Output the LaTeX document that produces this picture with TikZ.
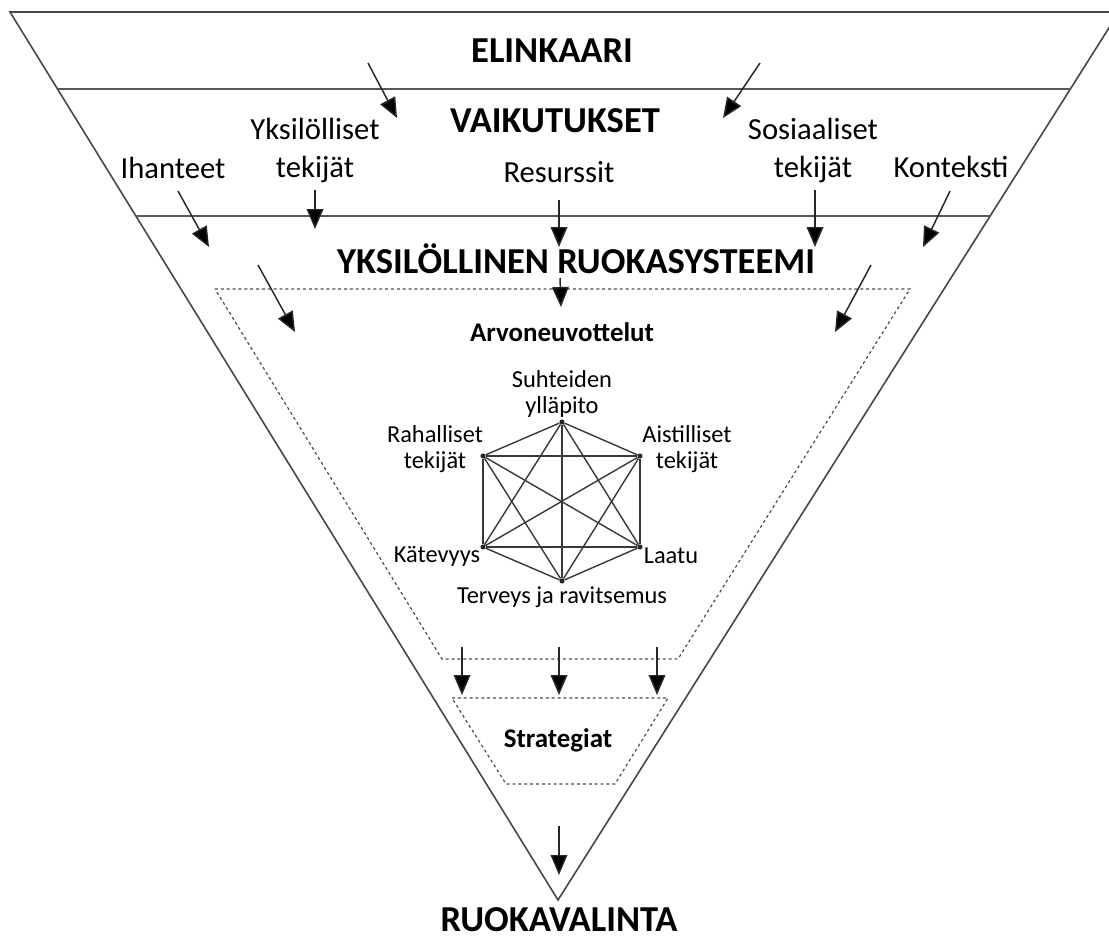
\documentclass[tikz,border=0pt]{standalone}
\usepackage{fontspec}
\setmainfont{Carlito}
\usetikzlibrary{arrows.meta}
\begin{document}
\begin{tikzpicture}[x=0.75pt,y=-0.75pt,
  frame/.style={draw=black!72, line width=1.2pt},
  band/.style={draw=black!65, line width=1.7pt},
  dashbox/.style={draw=black!70, line width=0.9pt, dash pattern=on 2.2pt off 2.2pt},
  arr/.style={draw=black!85, line width=1.1pt, -{Triangle[length=15pt,width=12.5pt,fill=black]}},
  head/.style={font=\bfseries\fontsize{27.4}{30}\selectfont, inner sep=0pt, anchor=base},
  lab/.style={font=\fontsize{23}{28}\selectfont, align=center, inner sep=0pt, anchor=base},
  hlab/.style={font=\fontsize{18.3}{19.5}\selectfont, align=center, inner sep=0pt, anchor=base},
  sub/.style={font=\bfseries\fontsize{20.2}{22}\selectfont, inner sep=0pt, anchor=base},
  vtx/.style={circle, fill=black!85, inner sep=0pt, minimum size=3.8pt},
  hx/.style={draw=black!78, line width=1.05pt}]
\useasboundingbox (0,0) rectangle (1109,940);
\clip (0,0) rectangle (1109,940);
% outer funnel
\coordinate (tl) at (10,12);
\coordinate (tr) at (1119,12);
\coordinate (apex) at (558,900);
\draw[frame] (tl) -- (tr) -- (apex) -- cycle;
\coordinate (b1l) at (57.5,89);  \coordinate (b1r) at (1070.5,89);
\coordinate (b2l) at (136,216);  \coordinate (b2r) at (990.5,216);
\draw[band] (b1l) -- (b1r);
\draw[band] (b2l) -- (b2r);
% dashed trapezoids
\coordinate (d1a) at (215,289); \coordinate (d1b) at (910,289);
\coordinate (d1c) at (678,659); \coordinate (d1d) at (442,659);
\draw[dashbox] (d1a) -- (d1b) -- (d1c) -- (d1d) -- cycle;
\coordinate (d2a) at (452,698); \coordinate (d2b) at (668,698);
\coordinate (d2c) at (615,784); \coordinate (d2d) at (506,784);
\draw[dashbox] (d2a) -- (d2b) -- (d2c) -- (d2d) -- cycle;
% headings
\node[head] (elinkaari) at (552,62.5) {ELINKAARI};
\node[head] (vaikutukset) at (555,132) {VAIKUTUKSET};
\node[head] (yrs) at (576,273) {YKSILÖLLINEN RUOKASYSTEEMI};
\node[head] (ruokavalinta) at (559,931) {RUOKAVALINTA};
% influence labels
\node[lab] (ihanteet) at (173,178) {Ihanteet};
\node[lab] (yksil) at (315,177) {Yksilölliset\\tekijät};
\node[lab] (resurssit) at (559,182) {Resurssit};
\node[lab] (sosiaaliset) at (813,177) {Sosiaaliset\\tekijät};
\node[lab] (konteksti) at (951,177) {Konteksti};
\node[sub] (arvo) at (562,341) {Arvoneuvottelut};
\node[sub] (strategiat) at (558,747) {Strategiat};
% arrows
\coordinate (e1s) at (368,63);  \coordinate (e1t) at (397,118);
\coordinate (e2s) at (760,63);  \coordinate (e2t) at (723,118);
\draw[arr] (e1s) -- (e1t);
\draw[arr] (e2s) -- (e2t);
\coordinate (v1s) at (178,191); \coordinate (v1t) at (209,247);
\coordinate (v2s) at (315,190); \coordinate (v2t) at (315,229);
\coordinate (v3s) at (559,200); \coordinate (v3t) at (559,247);
\coordinate (v4s) at (815,190); \coordinate (v4t) at (815,247);
\coordinate (v5s) at (950,191); \coordinate (v5t) at (923,247);
\foreach \i in {1,...,5} {\draw[arr] (v\i s) -- (v\i t);}
\coordinate (y1s) at (258,265); \coordinate (y1t) at (295,332);
\coordinate (y2s) at (560,278); \coordinate (y2t) at (561,307);
\coordinate (y3s) at (871,265); \coordinate (y3t) at (835,332);
\foreach \i in {1,2,3} {\draw[arr] (y\i s) -- (y\i t);}
\coordinate (s1s) at (462,647); \coordinate (s1t) at (462,695);
\coordinate (s2s) at (559,647); \coordinate (s2t) at (559,695);
\coordinate (s3s) at (657,647); \coordinate (s3t) at (657,695);
\foreach \i in {1,2,3} {\draw[arr] (s\i s) -- (s\i t);}
\coordinate (bs) at (559,826); \coordinate (bt) at (559,875);
\draw[arr] (bs) -- (bt);
% hexagon (complete graph)
\node[vtx] (h1) at (562,422) {};
\node[vtx] (h2) at (640,456) {};
\node[vtx] (h3) at (640,547) {};
\node[vtx] (h4) at (562,581) {};
\node[vtx] (h5) at (483,547) {};
\node[vtx] (h6) at (483,456) {};
\foreach \a/\b in {1/2,1/3,1/4,1/5,1/6,2/3,2/4,2/5,2/6,3/4,3/5,3/6,4/5,4/6,5/6}
  {\draw[hx] (h\a) -- (h\b);}
\node[hlab] (suht) at (562,413) {Suhteiden\\ylläpito};
\node[hlab] (raha) at (435,468) {Rahalliset\\tekijät};
\node[hlab] (aist) at (687,468) {Aistilliset\\tekijät};
\node[hlab] (kate) at (437,562) {Kätevyys};
\node[hlab] (laatu) at (671,563) {Laatu};
\node[hlab] (terv) at (562,603) {Terveys ja ravitsemus};
\end{tikzpicture}
\end{document}
